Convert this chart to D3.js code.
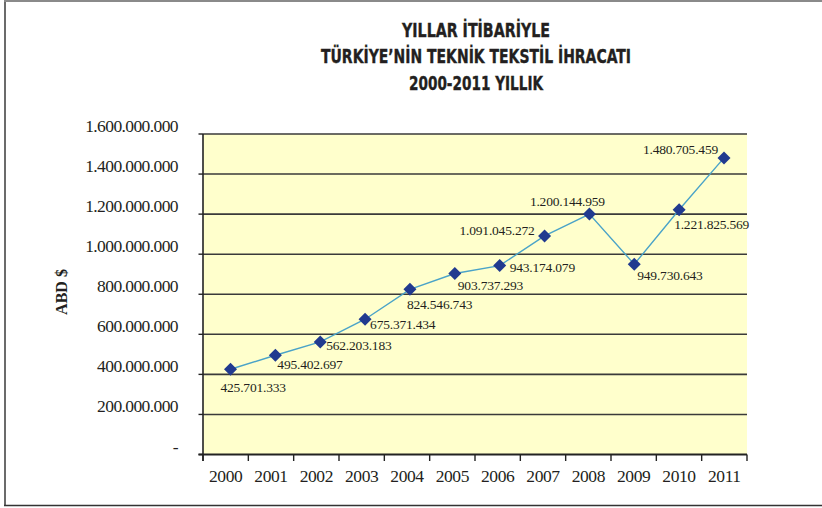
<!DOCTYPE html>
<html>
<head>
<meta charset="utf-8">
<script src="https://cdn.jsdelivr.net/npm/d3@7"></script>
<style>
  html, body { margin: 0; padding: 0; background: #fff; }
  svg { display: block; }
</style>
</head>
<body>
<svg id="chart" width="822" height="508"></svg>
<script>
// ---- data ----
const years = ["2000","2001","2002","2003","2004","2005","2006","2007","2008","2009","2010","2011"];
const exports = [425701333, 495402697, 562203183, 675371434, 824546743, 903737293, 943174079,
                 1091045272, 1200144959, 949730643, 1221825569, 1480705459];
const yTicks = [0, 200000000, 400000000, 600000000, 800000000, 1000000000, 1200000000, 1400000000, 1600000000];
const titleLines = ["YILLAR  İTİBARİYLE", "TÜRKİYE’NİN  TEKNİK TEKSTİL  İHRACATI", "2000-2011 YILLIK"];
const yTitle = "ABD $";

// ---- layout (label placement relative to each point) ----
const labelPlacement = [
  {dx: -10, dy: 18, a: "start"},
  {dx: 2, dy: 9.5, a: "start"},
  {dx: 6, dy: 4, a: "start"},
  {dx: 5, dy: 5.5, a: "start"},
  {dx: -3, dy: 15, a: "start"},
  {dx: 3, dy: 12, a: "start"},
  {dx: 10, dy: 2, a: "start"},
  {dx: -10, dy: -5.5, a: "end"},
  {dx: -22, dy: -12.5, a: "middle"},
  {dx: 3, dy: 11, a: "start"},
  {dx: -5, dy: 14.5, a: "start"},
  {dx: -6, dy: -8, a: "end"}
];

const svg = d3.select("#chart");
const L = 203, R = 747, T = 134, B = 454.5;

const loc = d3.formatLocale({decimal: ",", thousands: ".", grouping: [3], currency: ["", ""]});
const fmt = loc.format(",");

const y = d3.scaleLinear().domain([0, 1600000000]).range([B, T]);
const xBand = d3.scaleBand().domain(years).range([L, R]);
const xPt = d3.scalePoint().domain(years).range([230.5, 724]);

// outer frame
svg.append("line").attr("x1", 5).attr("x2", 5).attr("y1", 0).attr("y2", 506)
  .attr("stroke", "#6b6b6b").attr("stroke-width", 2);
svg.append("line").attr("x1", 4).attr("x2", 822).attr("y1", 1).attr("y2", 1)
  .attr("stroke", "#8a8a8a").attr("stroke-width", 2);
svg.append("line").attr("x1", 4).attr("x2", 822).attr("y1", 505.5).attr("y2", 505.5)
  .attr("stroke", "#333").attr("stroke-width", 1.5);

// title
const title = svg.append("g");
const titleWidths = [148, 310, 134];
titleLines.forEach((t, i) => {
  title.append("text")
    .attr("x", 476).attr("y", 30 + i * 26.5)
    .attr("text-anchor", "middle").attr("dominant-baseline", "central")
    .attr("font-family", "'Liberation Sans Narrow', 'DejaVu Sans Condensed', 'Roboto Condensed', sans-serif")
    .attr("font-weight", "bold").attr("font-size", 19.5)
    .attr("fill", "#231f20").attr("stroke", "#231f20").attr("stroke-width", 0.35)
    .attr("textLength", titleWidths[i]).attr("lengthAdjust", "spacingAndGlyphs")
    .text(t);
});

// plot background
svg.append("rect").attr("x", L).attr("y", T).attr("width", R - L).attr("height", B - T)
  .attr("fill", "#ffffcc");

// grid lines
svg.append("g").selectAll("line").data(yTicks.filter(d => d > 0)).join("line")
  .attr("x1", L).attr("x2", R).attr("y1", d => y(d)).attr("y2", d => y(d))
  .attr("stroke", "#3a3a3a").attr("stroke-width", 1.6);

// y-axis line + ticks
svg.append("line").attr("x1", L).attr("x2", L).attr("y1", T).attr("y2", B + 6.5)
  .attr("stroke", "#222").attr("stroke-width", 1.6);
svg.append("g").selectAll("line").data(yTicks).join("line")
  .attr("x1", L - 4.5).attr("x2", L).attr("y1", d => y(d)).attr("y2", d => y(d))
  .attr("stroke", "#222").attr("stroke-width", 1.4);

// y tick labels
svg.append("g").selectAll("text").data(yTicks).join("text")
  .attr("x", 178).attr("y", d => y(d) - 8)
  .attr("text-anchor", "end").attr("dominant-baseline", "central")
  .attr("font-family", "'Liberation Serif', 'DejaVu Serif', serif")
  .attr("font-size", 17.5).attr("fill", "#231f20")
  .attr("letter-spacing", -0.6)
  .text(d => d === 0 ? "-" : fmt(d));

// y title
svg.append("text")
  .attr("transform", "translate(61,292) rotate(-90)")
  .attr("text-anchor", "middle").attr("dominant-baseline", "central")
  .attr("font-family", "'Liberation Serif', 'DejaVu Serif', serif")
  .attr("font-weight", "bold").attr("font-size", 16).attr("fill", "#231f20")
  .text(yTitle);

// x-axis line
svg.append("line").attr("x1", L - 4.5).attr("x2", R).attr("y1", B).attr("y2", B)
  .attr("stroke", "#222").attr("stroke-width", 1.8);
// x ticks at band edges
const edges = years.map(d => xBand(d)).concat([xBand(years[years.length - 1]) + xBand.bandwidth()]);
svg.append("g").selectAll("line").data(edges).join("line")
  .attr("x1", d => d).attr("x2", d => d).attr("y1", B).attr("y2", B + 6.5)
  .attr("stroke", "#222").attr("stroke-width", 1.4);
// x labels
svg.append("g").selectAll("text").data(years).join("text")
  .attr("x", d => xBand(d) + xBand.bandwidth() / 2).attr("y", 476)
  .attr("text-anchor", "middle").attr("dominant-baseline", "central")
  .attr("font-family", "'Liberation Serif', 'DejaVu Serif', serif")
  .attr("font-size", 17.5).attr("fill", "#231f20")
  .attr("letter-spacing", -0.4)
  .text(d => d);

// line
const pts = years.map((yr, i) => ({yr, v: exports[i], i}));
svg.append("path").datum(pts)
  .attr("d", d3.line().x(d => xPt(d.yr)).y(d => y(d.v)))
  .attr("fill", "none").attr("stroke", "#4aa3c8").attr("stroke-width", 1.4);

// markers (diamonds)
svg.append("g").selectAll("path").data(pts).join("path")
  .attr("transform", d => `translate(${xPt(d.yr)},${y(d.v)})`)
  .attr("d", "M0,-6.5L6.5,0L0,6.5L-6.5,0Z")
  .attr("fill", "#213a8f");

// data labels
svg.append("g").selectAll("text").data(pts).join("text")
  .attr("x", d => xPt(d.yr) + labelPlacement[d.i].dx)
  .attr("y", d => y(d.v) + labelPlacement[d.i].dy)
  .attr("text-anchor", d => labelPlacement[d.i].a)
  .attr("dominant-baseline", "central")
  .attr("font-family", "'Liberation Serif', 'DejaVu Serif', serif")
  .attr("font-size", 13.5).attr("fill", "#231f20")
  .attr("letter-spacing", -0.2)
  .text(d => fmt(d.v));
</script>
</body>
</html>
